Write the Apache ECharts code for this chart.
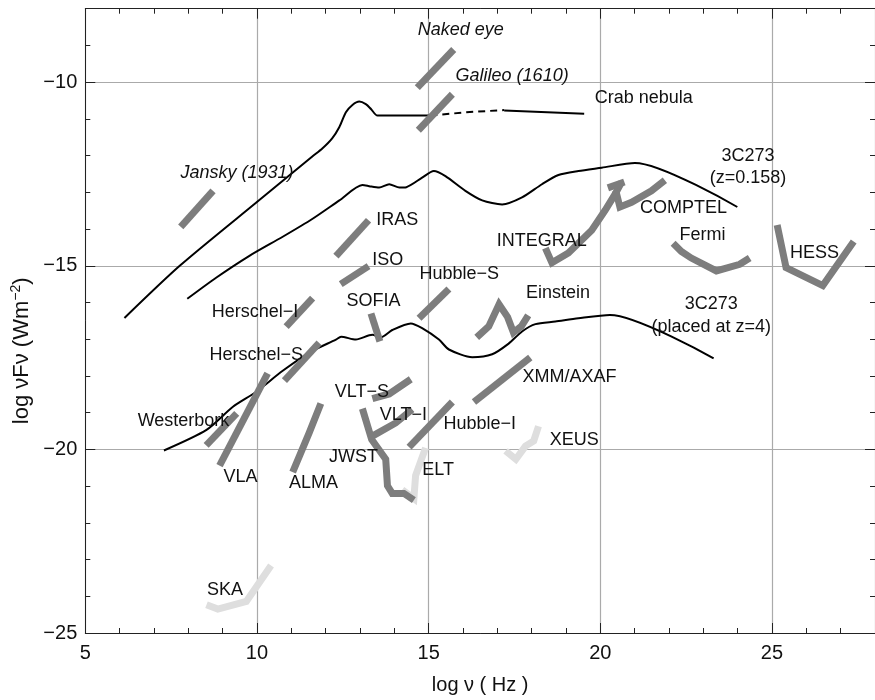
<!DOCTYPE html>
<html>
<head>
<meta charset="utf-8">
<script src="https://cdn.jsdelivr.net/npm/echarts@6/dist/echarts.min.js"></script>
<style>
html,body{margin:0;padding:0;background:#fff;}
#chart{width:875px;height:700px;}
</style>
</head>
<body>
<div id="chart"></div>
<script>
// ---- axis ranges / ticks ----
const xRange = [5, 28];
const yRange = [-25, -8];
const tickStep = 5;

// ---- black SED curves ----
const crabSolidA = [[6.14,-16.42],[7.75,-15.0],[9.99,-13.27],[11.62,-12.02],[11.91,-11.80],[12.19,-11.53],[12.40,-11.22],[12.59,-10.82],[12.78,-10.62],[12.98,-10.53],[13.17,-10.60],[13.32,-10.73],[13.51,-10.91],[14.94,-10.91],[15.05,-10.91]];
const crabDashed = [[15.05,-10.91],[16.1,-10.82],[17.2,-10.76]];
const crabSolidB = [[17.2,-10.77],[19.53,-10.86]];
const sed3c273Near = [[7.97,-15.90],[8.82,-15.32],[9.78,-14.73],[10.75,-14.21],[11.62,-13.72],[12.40,-13.22],[13.07,-12.80],[13.30,-12.84],[13.56,-12.87],[13.85,-12.78],[14.15,-12.87],[14.35,-12.86],[14.81,-12.60],[15.15,-12.42],[15.49,-12.56],[16.07,-12.96],[16.56,-13.22],[17.14,-13.33],[17.72,-13.14],[18.30,-12.78],[18.78,-12.53],[19.36,-12.42],[20.04,-12.33],[21.01,-12.20],[23.99,-13.40]];
const sed3c273Far = [[7.29,-20.03],[8.53,-19.47],[9.30,-18.84],[9.95,-18.45],[10.75,-17.86],[11.55,-17.35],[12.30,-17.01],[12.45,-16.93],[12.88,-17.01],[13.36,-16.88],[13.60,-16.95],[13.94,-16.75],[14.48,-16.57],[14.81,-16.70],[15.30,-17.01],[15.59,-17.28],[16.27,-17.49],[16.85,-17.41],[17.33,-17.12],[17.72,-16.79],[18.11,-16.59],[18.69,-16.52],[19.36,-16.43],[20.28,-16.34],[23.30,-17.52]];

// ---- instrument sensitivity tracks (dark grey) ----
const nakedEye = [[14.67,-10.15],[15.73,-9.11]];
const galileo = [[14.70,-11.31],[15.69,-10.33]];
const jansky = [[7.78,-13.94],[8.72,-12.96]];
const iras = [[12.30,-14.74],[13.25,-13.76]];
const iso = [[12.44,-15.50],[13.25,-15.01]];
const herschelI = [[10.85,-16.66],[11.62,-15.88]];
const sofia = [[13.32,-16.30],[13.58,-17.06]];
const hubbleS = [[14.72,-16.43],[15.59,-15.63]];
const herschelS = [[10.80,-18.13],[11.81,-17.10]];
const westerbork = [[8.52,-19.89],[9.41,-19.02]];
const vla = [[8.91,-20.44],[10.31,-17.93]];
const alma = [[11.04,-20.62],[11.52,-19.55],[11.86,-18.75]];
const vltS = [[13.36,-18.62],[13.85,-18.49],[14.48,-18.09]];
const vltI = [[13.36,-19.64],[14.04,-19.28],[14.52,-18.91]];
const jwst = [[13.07,-18.89],[13.34,-19.73],[13.75,-20.27],[13.80,-20.99],[13.94,-21.20],[14.28,-21.20],[14.57,-21.38]];
const hubbleI = [[14.43,-19.94],[15.69,-18.71]];
const xmm = [[16.32,-18.71],[17.96,-17.50]];
const einstein = [[16.40,-16.95],[16.75,-16.65],[17.05,-16.05],[17.30,-16.40],[17.47,-16.82],[17.70,-16.65],[17.90,-16.35]];
const integral = [[18.40,-14.52],[18.59,-14.92],[19.07,-14.65],[19.75,-14.03],[20.14,-13.49],[20.43,-13.05],[20.62,-12.72]];
const integralCap = [[20.22,-12.88],[20.70,-12.72]];
const comptel = [[20.45,-12.95],[20.57,-13.40],[20.91,-13.27],[21.49,-12.96],[21.88,-12.67]];
const fermi = [[22.12,-14.39],[22.36,-14.61],[22.65,-14.79],[23.38,-15.14],[24.06,-14.96],[24.35,-14.79]];
const hess = [[25.15,-13.89],[25.41,-15.05],[26.48,-15.54],[27.38,-14.34]];

// ---- future instruments (light grey) ----
const elt = [[14.23,-21.10],[14.57,-21.34],[14.62,-20.71],[14.91,-19.96]];
const xeus = [[17.24,-20.04],[17.54,-20.27],[17.82,-19.91],[18.06,-19.77],[18.20,-19.37]];
const ska = [[8.53,-24.23],[8.86,-24.35],[9.69,-24.14],[10.41,-23.16]];

// ---- annotations: text, x, y (left anchored) ----
const labelText = ['Naked eye','Galileo (1610)','Crab nebula','Jansky (1931)','IRAS','ISO','Hubble\u2212S','INTEGRAL','COMPTEL','Fermi','HESS','Herschel\u2212I','SOFIA','Einstein','Herschel\u2212S','VLT\u2212S','XMM/AXAF','Westerbork','VLT\u2212I','Hubble\u2212I','JWST','XEUS','VLA','ALMA','ELT','SKA'];
const labelX = [14.67,15.77,19.82,7.76,13.46,13.34,14.72,16.97,21.14,22.29,25.51,8.67,12.59,17.82,8.60,12.25,17.72,6.51,13.56,15.42,12.08,18.51,9.01,10.92,14.80,8.53];
const labelY = [-8.59,-9.84,-10.44,-12.47,-13.76,-14.85,-15.23,-14.34,-13.42,-14.16,-14.65,-16.26,-15.97,-15.75,-17.44,-18.44,-18.02,-19.24,-19.06,-19.31,-20.20,-19.75,-20.76,-20.92,-20.55,-23.83];
const italicLabels = ['Naked eye','Galileo (1610)','Jansky (1931)'];
// centred annotations
const centerText = ['3C273','(z=0.158)','3C273','(placed at z=4)'];
const centerX = [24.3,24.3,23.23,23.23];
const centerY = [-12.0,-12.6,-16.03,-16.66];

const FONT = "'Liberation Sans', Arial, Helvetica, sans-serif";
const DARK = '#7d7d7d';
const LIGHT = '#dedede';

function blackLine(data, dashed, smooth) {
  return {type:'line', data, symbol:'none', silent:true, z:3, smooth: smooth ? 0.25 : false,
    lineStyle:{color:'#000', width:2, type: dashed ? [7,5] : 'solid'}};
}
function track(data, color) {
  return {type:'line', data, symbol:'none', silent:true, z:4,
    lineStyle:{color, width:7, cap:'butt', join:'miter'}};
}

const darkTracks = [nakedEye,galileo,jansky,iras,iso,herschelI,sofia,hubbleS,herschelS,westerbork,vla,alma,vltS,vltI,jwst,hubbleI,xmm,einstein,integral,integralCap,comptel,fermi,hess];
const lightTracks = [elt,xeus,ska];

const labelData = labelText.map((t,i)=>({
  value:[labelX[i], labelY[i]], name:t,
  label: italicLabels.includes(t) ? {fontStyle:'italic'} : {}
}));
const centerData = centerText.map((t,i)=>({value:[centerX[i], centerY[i]], name:t}));

const series = [
  blackLine(crabSolidA,false,true),
  blackLine(crabDashed,true,false),
  blackLine(crabSolidB,false,false),
  blackLine(sed3c273Near,false,true),
  blackLine(sed3c273Far,false,true),
  ...lightTracks.map(d=>track(d,LIGHT)),
  ...darkTracks.map(d=>track(d,DARK)),
  {type:'scatter', data:labelData, symbolSize:1, itemStyle:{color:'rgba(0,0,0,0)', opacity:1}, silent:true, z:6,
    label:{show:true, position:'right', distance:0, formatter:p=>p.name, color:'#111', fontSize:18, fontFamily:FONT}},
  {type:'scatter', data:centerData, symbolSize:1, itemStyle:{color:'rgba(0,0,0,0)', opacity:1}, silent:true, z:6,
    label:{show:true, position:'inside', formatter:p=>p.name, color:'#111', fontSize:18, fontFamily:FONT, textBorderWidth:0}}
];

const minus = v => String(v).replace('-', '\u2212');
const axisLineStyle = {show:true, lineStyle:{color:'#222', width:1}};
const chart = echarts.init(document.getElementById('chart'), null, {renderer:'canvas'});
chart.setOption({
  animation:false,
  backgroundColor:'#fff',
  grid:{left:85.3, top:8.7, width:792.4, height:635},
  xAxis:[
    {type:'value', min:xRange[0], max:xRange[1], interval:tickStep, position:'bottom',
     axisLine:axisLineStyle,
     axisTick:{show:true, inside:true, length:10, lineStyle:{color:'#222'}},
     minorTick:{show:true, splitNumber:5, length:5, lineStyle:{color:'#222'}},
     splitLine:{show:true, lineStyle:{color:'#aaaaaa', width:1.2}},
     axisLabel:{show:true, margin:10, fontSize:20, color:'#111', fontFamily:FONT, showMaxLabel:false, formatter:minus},
     name:'log \u03bd ( Hz )', nameLocation:'middle', nameGap:42,
     nameTextStyle:{fontSize:20, color:'#111', fontFamily:FONT}},
    {type:'value', min:xRange[0], max:xRange[1], interval:tickStep, position:'top',
     axisLine:axisLineStyle,
     axisTick:{show:true, inside:true, length:10, lineStyle:{color:'#222'}},
     minorTick:{show:true, splitNumber:5, length:5, lineStyle:{color:'#222'}},
     splitLine:{show:false}, axisLabel:{show:false}}
  ],
  yAxis:[
    {type:'value', min:yRange[0], max:yRange[1], interval:tickStep, position:'left',
     axisLine:axisLineStyle,
     axisTick:{show:true, inside:true, length:10, lineStyle:{color:'#222'}},
     minorTick:{show:true, splitNumber:5, length:5, lineStyle:{color:'#222'}},
     splitLine:{show:true, lineStyle:{color:'#aaaaaa', width:1.2}},
     axisLabel:{show:true, margin:8, fontSize:20, color:'#111', fontFamily:FONT, showMaxLabel:false, formatter:minus},
     name:'log \u03bdF\u03bd (Wm{sup|\u22122})', nameLocation:'middle', nameGap:50, nameRotate:90,
     nameTextStyle:{fontSize:22, color:'#111', fontFamily:FONT, padding:[0,60,0,0],
       rich:{sup:{fontSize:14, color:'#111', fontFamily:FONT, padding:[0,0,10,0]}}}},
    {type:'value', min:yRange[0], max:yRange[1], interval:tickStep, position:'right',
     axisLine:{show:false},
     axisTick:{show:true, inside:true, length:10, lineStyle:{color:'#222'}},
     minorTick:{show:true, splitNumber:5, length:5, lineStyle:{color:'#222'}},
     splitLine:{show:false}, axisLabel:{show:false}}
  ],
  series: series
});
</script>
</body>
</html>
